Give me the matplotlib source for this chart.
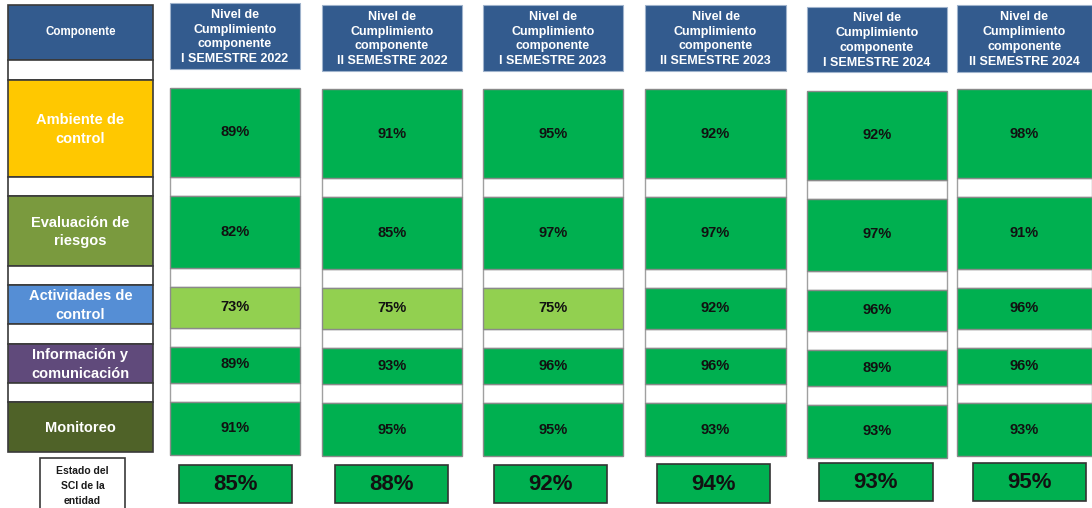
import matplotlib.pyplot as plt
from matplotlib.patches import Rectangle

plt.rcParams['font.family'] = ['Liberation Sans', 'DejaVu Sans']

# data
componentes = ['Ambiente de\ncontrol', 'Evaluación de\nriesgos', 'Actividades de\ncontrol',
               'Información y\ncomunicación', 'Monitoreo']
semestres = ['I SEMESTRE 2022', 'II SEMESTRE 2022', 'I SEMESTRE 2023',
             'II SEMESTRE 2023', 'I SEMESTRE 2024', 'II SEMESTRE 2024']
sem1_2022 = [89, 82, 73, 89, 91]
sem2_2022 = [91, 85, 75, 93, 95]
sem1_2023 = [95, 97, 75, 96, 95]
sem2_2023 = [92, 97, 92, 96, 93]
sem1_2024 = [92, 97, 96, 89, 93]
sem2_2024 = [98, 91, 96, 96, 93]
totales = [85, 88, 92, 94, 93, 95]
valores = [sem1_2022, sem2_2022, sem1_2023, sem2_2023, sem1_2024, sem2_2024]

# colours
azul_head = '#335B8E'
verde = '#00B050'
verde_claro = '#92D050'
comp_colores = ['#FFC800', '#7A9A3E', '#558ED5', '#604A7B', '#4F6228']

fig = plt.figure(figsize=(10.92, 5.08), dpi=100)
ax = fig.add_axes([0, 0, 1, 1])
ax.set_xlim(0, 1092)
ax.set_ylim(508, 0)
ax.axis('off')

# left column (component names)
lx0, lx1 = 8, 153
left_rows = [(5, 60), (60, 80), (80, 177), (177, 196), (196, 266), (266, 285),
             (285, 324), (324, 344), (344, 383), (383, 402), (402, 452)]
for i, (y0, y1) in enumerate(left_rows):
    if i == 0:
        fc = azul_head
    elif i % 2 == 1:
        fc = 'white'
    else:
        fc = comp_colores[i // 2 - 1]
    ax.add_patch(Rectangle((lx0, y0), lx1 - lx0, y1 - y0, facecolor=fc,
                           edgecolor='#3a3a3a', lw=1.2))
ax.text((lx0 + lx1) / 2, 32, 'Componente', ha='center', va='center',
        color='white', fontsize=8.3, fontweight='bold')
for k, name in enumerate(componentes):
    y0, y1 = left_rows[2 + 2 * k]
    ax.text((lx0 + lx1) / 2, (y0 + y1) / 2 + 1, name, ha='center', va='center',
            color='white', fontsize=10.5, fontweight='bold', linespacing=1.4)

# estado box
ax.add_patch(Rectangle((40, 458), 85, 60, facecolor='white', edgecolor='#3a3a3a', lw=1.2))
ax.text(82.5, 486, 'Estado del\nSCI de la\nentidad', ha='center', va='center',
        fontsize=7.5, fontweight='bold', color='#1a1a1a', linespacing=1.6)

# data columns
col_x = [(170, 300), (322, 462), (483, 623), (645, 786), (807, 947), (957, 1092)]
head_y = [(3, 69), (5, 71), (5, 71), (5, 71), (7, 72), (5, 72)]
y_off = [-1.5, 0, 0, 0, 1.5, 0]
rows = [(89, 178), (197, 269), (288, 329), (348, 384), (403, 456)]
tot_x = [(179, 292), (335, 448), (494, 607), (657, 770), (819, 933), (973, 1086)]
tot_y = [(465, 503), (465, 503), (465, 503), (464, 503), (463, 501), (463, 501)]

for c, (x0, x1) in enumerate(col_x):
    hy0, hy1 = head_y[c]
    ax.add_patch(Rectangle((x0, hy0), x1 - x0, hy1 - hy0, facecolor=azul_head,
                           edgecolor='#9fb3cc', lw=0.8))
    ax.text((x0 + x1) / 2, (hy0 + hy1) / 2 + 1,
            'Nivel de\nCumplimiento\ncomponente\n' + semestres[c],
            ha='center', va='center', color='white', fontsize=9,
            fontweight='bold', linespacing=1.32)
    off = y_off[c]
    # white separators
    for k in range(len(rows) - 1):
        ax.add_patch(Rectangle((x0, rows[k][1] + off), x1 - x0,
                               rows[k + 1][0] - rows[k][1], facecolor='white',
                               edgecolor='#a0a0a0', lw=1))
    for k, v in enumerate(valores[c]):
        y0, y1 = rows[k]
        fc = verde_claro if v < 80 else verde
        ax.add_patch(Rectangle((x0, y0 + off), x1 - x0, y1 - y0, facecolor=fc,
                               edgecolor='#8a8a8a', lw=1))
        ax.text((x0 + x1) / 2, (y0 + y1) / 2 + off, f'{v}%', ha='center',
                va='center', fontsize=10.5, fontweight='bold', color='#111111')
    tx0, tx1 = tot_x[c]
    ty0, ty1 = tot_y[c]
    ax.add_patch(Rectangle((tx0, ty0), tx1 - tx0, ty1 - ty0, facecolor=verde,
                           edgecolor='#333333', lw=1.2))
    ax.text((tx0 + tx1) / 2, (ty0 + ty1) / 2 + 1, f'{totales[c]}%', ha='center',
            va='center', fontsize=16, fontweight='bold', color='#111111')

fig.savefig('out.png', dpi=100)
